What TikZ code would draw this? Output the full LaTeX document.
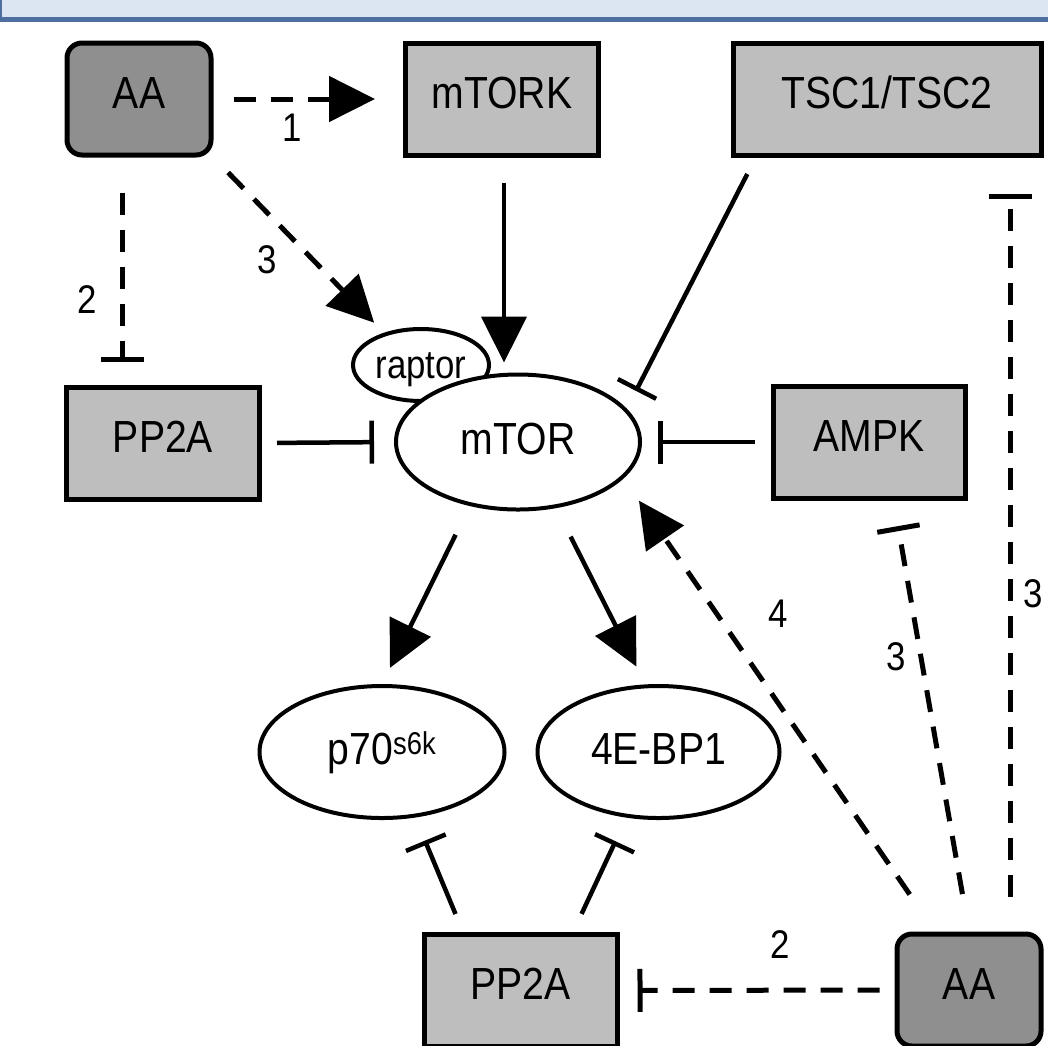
\documentclass[tikz,border=0pt]{standalone}
\usepackage{fontspec}
\setmainfont{Liberation Sans}[FakeStretch=0.87]
\usetikzlibrary{arrows.meta, shapes.geometric}
\definecolor{boxgrey}{RGB}{190,190,190}
\definecolor{aagrey}{RGB}{143,143,143}
\definecolor{bannerfill}{RGB}{220,230,242}
\definecolor{bannerline}{RGB}{79,110,160}
\tikzstyle{block} = [minimum height=112pt, line width=5pt, inner sep=2pt, text height=32pt, text depth=14pt, font=\fontsize{45}{50}\selectfont]
\tikzstyle{box} = [draw, block, rectangle, fill=boxgrey]
\tikzstyle{aabox} = [draw, block, rectangle, rounded corners=15pt, fill=aagrey, minimum width=144pt]
\tikzstyle{blob} = [draw, ellipse, line width=4pt, fill=white, inner sep=2pt, minimum width=244pt, minimum height=135pt, text height=32pt, text depth=8pt, font=\fontsize{45}{50}\selectfont]
\tikzstyle{number} = [inner sep=0pt, font=\fontsize{40}{46}\selectfont]
\tikzstyle{act} = [-{Triangle[length=46pt, width=45pt]}, line width=4.5pt]
\tikzstyle{inh} = [-{Bar[width=43pt]}, line width=4.5pt]
\tikzstyle{dashline} = [dash pattern=on 22pt off 15pt, line width=5pt]

\begin{document}
\begin{tikzpicture}[x=1pt, y=-1pt]
    \useasboundingbox (0,0) rectangle (1048,1045);
    \clip (0,0) rectangle (1048,1045);

    % Banner.
    \fill [bannerfill] (0,-5) rectangle (1048,17);
    \draw [bannerline, line width=5pt] (-5,19) -- (1053,19);
    \draw [bannerline, line width=3pt] (0,-5) -- (0,19);

    % Boxes.
    \node (aa1) [aabox] at (139,99) {AA};
    \node (mtork) [box, minimum width=193pt] at (502,99) {mTORK};
    \node (tsc) [box, minimum width=308pt] at (887,99.5) {TSC1/TSC2};
    \node (pp2a1) [box, minimum width=193pt] at (163,443) {PP2A};
    \node (ampk) [box, minimum width=192pt] at (869,442) {AMPK};
    \node (pp2a2) [box, minimum width=193pt] at (520.5,990.5) {PP2A};
    \node (aa2) [aabox] at (969,990) {AA};

    % Ellipses.
    \node (raptor) [blob, minimum width=136pt, minimum height=72pt, text height=34pt, font=\fontsize{40}{46}\selectfont] at (421,365) {raptor};
    \node (mtor) [blob] at (518,442) {mTOR};
    \node (p70) [blob, minimum width=245pt, minimum height=132pt] at (382,752) {p70\textsuperscript{s6k}};
    \node (bp1) [blob, minimum width=242pt, minimum height=132pt] at (658.5,752) {4E-BP1};

    % Labels.
    \node (n1) [number] at (292,128) {1};
    \node (n2) [number] at (87,300) {2};
    \node (n3) [number] at (267,260) {3};
    \node (n4) [number] at (778,614) {4};
    \node (n5) [number] at (896,657) {3};
    \node (n6) [number] at (1033,594) {3};
    \node (n7) [number] at (780,945) {2};

    % Arrows.
    \draw [act, dashline, shorten <=20pt, shorten >=28pt] (aa1) -- (mtork);
    \draw [act, dashline, shorten <=21pt, shorten >=14pt] (aa1.south east) -- (raptor.139);
    \draw [inh, dashline, shorten <=35pt, shorten >=23pt] ([xshift=-17pt]aa1.south) -- ([xshift=-41pt]pp2a1.north);
    \draw [act, shorten <=25pt, shorten >=10pt] ([xshift=2pt]mtork.south) -- ([xshift=-14pt]mtor.north);
    \draw [inh, shorten <=18pt, shorten >=20pt] ([xshift=25pt]tsc.south west) -- (mtor.17);
    \draw [inh, shorten <=15pt, shorten >=20pt] (pp2a1.east) -- (mtor.west);
    \draw [inh, shorten <=16pt, shorten >=16pt] (ampk.west) -- (mtor.east);
    \draw [act, shorten <=32pt, shorten >=18pt] (mtor.-127) -- (p70.north);
    \draw [act, shorten <=32pt, shorten >=20pt] (mtor.-60) -- (bp1.101.5);
    \draw [inh, shorten <=19.5pt, shorten >=25pt] ([xshift=41.5pt]pp2a2.north west) -- (p70.-63);
    \draw [inh, shorten <=20pt, shorten >=26pt] ([xshift=-46.4pt]pp2a2.north east) -- (bp1.-116);
    \draw [inh, dashline, shorten <=15pt, shorten >=18pt] (aa2) -- (pp2a2);
    \draw [inh, dashline, shorten <=38pt, shorten >=26pt] (aa2.north) -- ([xshift=24.5pt]ampk.south);
    \draw [inh, dashline, shorten <=35pt, shorten >=36pt] ([xshift=41pt]aa2.north) -- ([xshift=123pt]tsc.south);
    \draw [act, dashline, shorten <=45pt, shorten >=27pt] (aa2.120) -- (mtor.-19);
\end{tikzpicture}
\end{document}
